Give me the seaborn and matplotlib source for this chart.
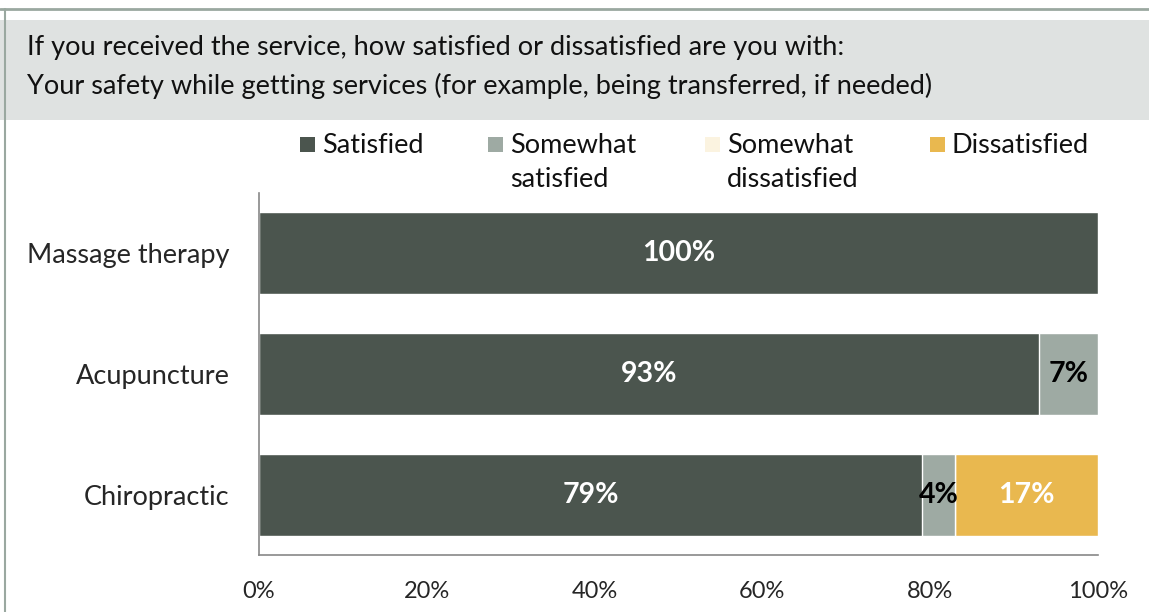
import pandas as pd
import seaborn as sns
import matplotlib.pyplot as plt
from matplotlib.patches import Rectangle

# chart data
services = ["Massage therapy", "Acupuncture", "Chiropractic"]
satisfied = [100, 93, 79]
somewhat_satisfied = [0, 7, 4]
somewhat_dissatisfied = [0, 0, 0]
dissatisfied = [0, 0, 17]
series_names = ["Satisfied", "Somewhat\nsatisfied", "Somewhat\ndissatisfied", "Dissatisfied"]
series_colors = ["#4B554E", "#9EAAA3", "#FBF3E0", "#E9B84F"]
label_colors = ["white", "black", "black", "white"]
x_ticks = [0, 20, 40, 60, 80, 100]
header_lines = ["If you received the service, how satisfied or dissatisfied are you with:",
                "Your safety while getting services (for example, being transferred, if needed)"]

sns.set_style("white")
plt.rcParams["font.family"] = ["Lato", "DejaVu Sans"]

W, H = 1149, 612
fig = plt.figure(figsize=(W / 100, H / 100), dpi=100)

# frame lines and grey header band
fig.add_artist(plt.Line2D([0, 1], [1 - 9 / H] * 2, color="#9AA8A0", lw=2))
fig.add_artist(plt.Line2D([5 / W] * 2, [0, 1 - 9 / H], color="#9AA8A0", lw=1.5))
fig.add_artist(Rectangle((0, 1 - 120 / H), 1, 100 / H, transform=fig.transFigure,
                         facecolor="#DFE2E1", edgecolor="none"))
fig.text(27 / W, 1 - 48 / H, header_lines[0], fontsize=19.5, va="center", color="#111111")
fig.text(27 / W, 1 - 86 / H, header_lines[1], fontsize=19.5, va="center", color="#111111")

ax = fig.add_axes([259 / W, 1 - 555 / H, (1098 - 259) / W, (555 - 193) / H])

series = [satisfied, somewhat_satisfied, somewhat_dissatisfied, dissatisfied]
df = pd.DataFrame({"service": services})
cums = []
running = [0] * len(services)
for vals in series:
    running = [r + v for r, v in zip(running, vals)]
    cums.append(list(running))

# stacked bars: draw cumulative totals from the largest down
for i in reversed(range(len(series))):
    df["value"] = cums[i]
    sns.barplot(data=df, x="value", y="service", orient="h", color=series_colors[i],
                width=0.68, saturation=1, ax=ax)

for i, vals in enumerate(series):
    for j, v in enumerate(vals):
        if v > 0:
            ax.text(cums[i][j] - v / 2, j, f"{v}%", ha="center", va="center",
                    fontsize=20.5, fontweight="bold", color=label_colors[i])

ax.set_xlim(0, 100)
ax.set_ylim(2.5, -0.5)
ax.set_xticks(x_ticks)
ax.set_xticklabels([f"{t}%" for t in x_ticks], fontsize=17)
ax.set_yticks(range(len(services)))
ax.set_yticklabels(services, fontsize=19.5)
ax.set_yticks([-0.5, 0.5, 1.5, 2.5], minor=True)
ax.tick_params(axis="y", which="major", length=0, pad=21)
ax.tick_params(axis="y", which="minor", length=6, color="#888888", direction="out")
ax.tick_params(axis="x", length=6, color="#888888", direction="out", pad=13)
ax.set_xlabel("")
ax.set_ylabel("")
for side in ["top", "right"]:
    ax.spines[side].set_visible(False)
for side in ["left", "bottom"]:
    ax.spines[side].set_color("#888888")
    ax.spines[side].set_linewidth(1.2)

# legend, handle aligned to first text line
legend_x = [300, 488, 705, 930]
for name, col, lx in zip(series_names, series_colors, legend_x):
    fig.add_artist(Rectangle((lx / W, 1 - 152 / H), 15 / W, 15 / H, transform=fig.transFigure,
                             facecolor=col, edgecolor="none"))
    fig.text((lx + 22) / W, 1 - 133 / H, name, fontsize=19.5, va="top", linespacing=1.45,
             color="#111111")

fig.savefig("out.png", dpi=100)
